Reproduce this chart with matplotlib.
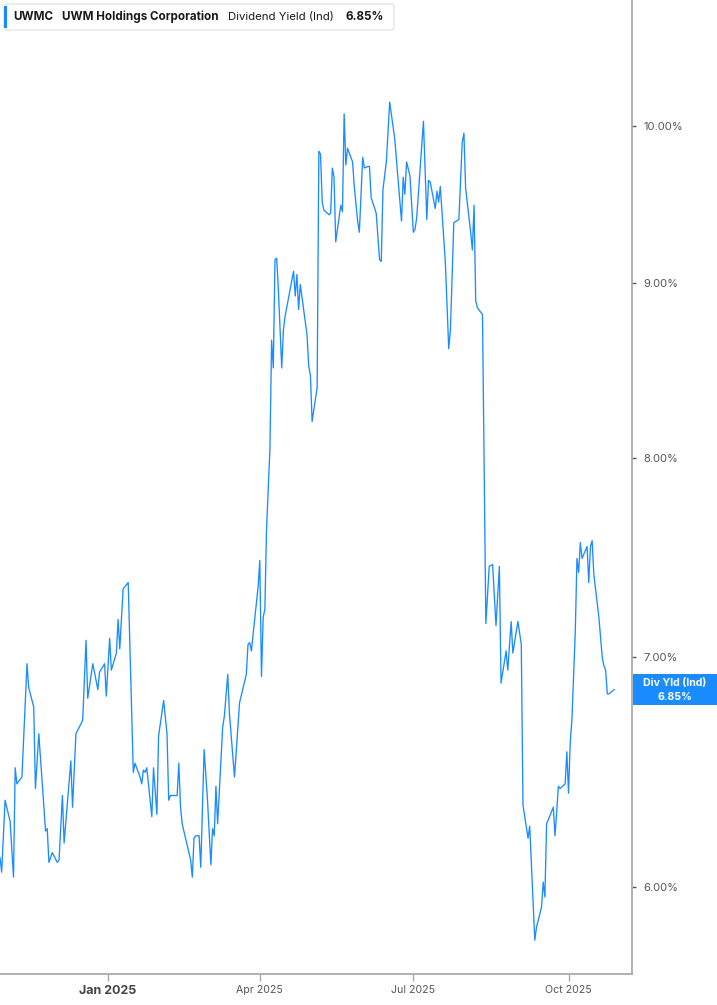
import matplotlib
matplotlib.use("Agg")
import matplotlib.pyplot as plt
import matplotlib.dates as mdates
from matplotlib.patches import FancyBboxPatch, Rectangle
from matplotlib.ticker import NullLocator
from datetime import datetime, timedelta

plt.rcParams['font.family'] = ['Inter', 'DejaVu Sans']

# dividend yield (%)
dates = [
    "2024-10-29", "2024-10-30", "2024-11-01", "2024-11-04", "2024-11-06", "2024-11-07", "2024-11-08",
    "2024-11-11", "2024-11-14", "2024-11-15", "2024-11-18", "2024-11-19", "2024-11-21", "2024-11-25",
    "2024-11-26", "2024-11-27", "2024-11-29", "2024-12-02", "2024-12-03", "2024-12-05", "2024-12-06",
    "2024-12-10", "2024-12-11", "2024-12-13", "2024-12-17", "2024-12-19", "2024-12-20", "2024-12-23",
    "2024-12-26", "2024-12-27", "2024-12-30", "2024-12-31", "2025-01-02", "2025-01-03", "2025-01-06",
    "2025-01-07", "2025-01-08", "2025-01-10", "2025-01-13", "2025-01-16", "2025-01-17", "2025-01-20",
    "2025-01-21", "2025-01-22", "2025-01-23", "2025-01-24", "2025-01-27", "2025-01-28", "2025-01-30",
    "2025-01-31", "2025-02-03", "2025-02-05", "2025-02-06", "2025-02-07", "2025-02-11", "2025-02-12",
    "2025-02-13", "2025-02-14", "2025-02-18", "2025-02-19", "2025-02-20", "2025-02-21", "2025-02-22",
    "2025-02-24", "2025-02-25", "2025-02-27", "2025-03-01", "2025-03-03", "2025-03-04", "2025-03-05",
    "2025-03-06", "2025-03-07", "2025-03-10", "2025-03-11", "2025-03-13", "2025-03-14", "2025-03-17",
    "2025-03-20", "2025-03-24", "2025-03-25", "2025-03-26", "2025-03-27", "2025-03-31", "2025-04-01",
    "2025-04-02", "2025-04-03", "2025-04-04", "2025-04-05", "2025-04-07", "2025-04-08", "2025-04-09",
    "2025-04-10", "2025-04-11", "2025-04-12", "2025-04-14", "2025-04-15", "2025-04-16", "2025-04-21",
    "2025-04-22", "2025-04-23", "2025-04-24", "2025-04-25", "2025-04-29", "2025-04-30", "2025-05-01",
    "2025-05-02", "2025-05-05", "2025-05-06", "2025-05-07", "2025-05-08", "2025-05-09", "2025-05-12",
    "2025-05-13", "2025-05-14", "2025-05-15", "2025-05-16", "2025-05-18", "2025-05-19", "2025-05-20",
    "2025-05-21", "2025-05-22", "2025-05-23", "2025-05-26", "2025-05-27", "2025-05-29", "2025-05-30",
    "2025-06-01", "2025-06-02", "2025-06-04", "2025-06-05", "2025-06-06", "2025-06-09", "2025-06-11",
    "2025-06-12", "2025-06-13", "2025-06-15", "2025-06-17", "2025-06-20", "2025-06-24", "2025-06-25",
    "2025-06-26", "2025-06-27", "2025-06-29", "2025-07-01", "2025-07-02", "2025-07-03", "2025-07-07",
    "2025-07-09", "2025-07-10", "2025-07-11", "2025-07-14", "2025-07-15", "2025-07-16", "2025-07-17",
    "2025-07-20", "2025-07-22", "2025-07-23", "2025-07-25", "2025-07-28", "2025-07-30", "2025-07-31",
    "2025-08-01", "2025-08-04", "2025-08-05", "2025-08-06", "2025-08-07", "2025-08-08", "2025-08-11",
    "2025-08-13", "2025-08-15", "2025-08-17", "2025-08-19", "2025-08-21", "2025-08-22", "2025-08-25",
    "2025-08-26", "2025-08-28", "2025-08-29", "2025-09-01", "2025-09-03", "2025-09-04", "2025-09-07",
    "2025-09-08", "2025-09-11", "2025-09-12", "2025-09-15", "2025-09-16", "2025-09-17", "2025-09-18",
    "2025-09-22", "2025-09-23", "2025-09-25", "2025-09-26", "2025-09-29", "2025-09-30", "2025-10-01",
    "2025-10-02", "2025-10-03", "2025-10-05", "2025-10-06", "2025-10-07", "2025-10-08", "2025-10-09",
    "2025-10-12", "2025-10-13", "2025-10-14", "2025-10-15", "2025-10-16", "2025-10-19", "2025-10-21",
    "2025-10-22", "2025-10-23", "2025-10-24", "2025-10-25", "2025-10-28",
]
div_yield = [
    6.12, 6.06, 6.36, 6.27, 6.04, 6.50, 6.43,
    6.46, 6.97, 6.86, 6.77, 6.41, 6.65, 6.23,
    6.24, 6.10, 6.14, 6.10, 6.11, 6.38, 6.18,
    6.53, 6.33, 6.65, 6.71, 7.08, 6.81, 6.97,
    6.85, 6.93, 6.97, 6.82, 7.09, 6.94, 7.02,
    7.18, 7.04, 7.33, 7.36, 6.48, 6.52, 6.46,
    6.43, 6.49, 6.48, 6.50, 6.29, 6.50, 6.30,
    6.64, 6.80, 6.65, 6.36, 6.38, 6.38, 6.52,
    6.33, 6.26, 6.14, 6.11, 6.04, 6.20, 6.21,
    6.21, 6.08, 6.58, 6.36, 6.09, 6.24, 6.21,
    6.42, 6.26, 6.68, 6.73, 6.92, 6.74, 6.46,
    6.79, 6.92, 7.06, 7.07, 7.03, 7.34, 7.47,
    6.91, 7.19, 7.23, 7.63, 8.05, 8.66, 8.50,
    9.14, 9.15, 8.96, 8.50, 8.72, 8.80, 9.07,
    8.92, 9.05, 8.84, 8.99, 8.69, 8.51, 8.46,
    8.20, 8.39, 9.83, 9.81, 9.50, 9.45, 9.42,
    9.43, 9.72, 9.66, 9.25, 9.40, 9.48, 9.44,
    10.08, 9.74, 9.85, 9.76, 9.60, 9.38, 9.31,
    9.79, 9.72, 9.73, 9.73, 9.53, 9.43, 9.14,
    9.13, 9.58, 9.76, 10.16, 9.91, 9.38, 9.66,
    9.55, 9.76, 9.67, 9.31, 9.33, 9.40, 10.03,
    9.39, 9.64, 9.63, 9.46, 9.57, 9.50, 9.60,
    9.12, 8.61, 8.72, 9.37, 9.39, 9.89, 9.95,
    9.59, 9.31, 9.20, 9.48, 8.89, 8.85, 8.81,
    7.16, 7.44, 7.45, 7.15, 7.44, 6.88, 7.03,
    6.94, 7.17, 7.02, 7.17, 7.06, 6.34, 6.20,
    6.25, 5.79, 5.84, 5.92, 6.02, 5.96, 6.26,
    6.33, 6.21, 6.42, 6.41, 6.43, 6.57, 6.39,
    6.61, 6.71, 7.12, 7.48, 7.41, 7.56, 7.48,
    7.54, 7.36, 7.54, 7.57, 7.40, 7.19, 7.00,
    6.96, 6.94, 6.83, 6.83, 6.85,
]
ytick_vals = [6, 7, 8, 9, 10]
xtick_dates = ["2025-01-01", "2025-04-01", "2025-07-01", "2025-10-01"]
xtick_labels = ["Jan 2025", "Apr 2025", "Jul 2025", "Oct 2025"]

ticker = "UWMC"
company = "UWM Holdings Corporation"
metric = "Dividend Yield (Ind)"
last_label = "Div Yld (Ind)"

BLUE = "#1a8cff"
W, H = 717, 1005

x = [datetime.strptime(d, "%Y-%m-%d") for d in dates]

fig = plt.figure(figsize=(W / 100, H / 100), dpi=100)
ax = fig.add_axes([0, 1 - 974 / H, 632 / W, 974 / H])
ax.plot(x, div_yield, color=BLUE, lw=0.95)

ax.set_yscale("log")
ax.set_ylim(5.66, 10.88)
ax.yaxis.set_minor_locator(NullLocator())
ax.set_yticks(ytick_vals)
ax.set_yticklabels([f"{v:.2f}%" for v in ytick_vals])
ax.yaxis.tick_right()
ax.tick_params(axis="y", which="major", direction="out", length=3, width=1,
               color="#555555", labelsize=8, labelcolor="#555555", pad=5)

start = datetime(2024, 10, 29)
ax.set_xlim(start, start + timedelta(days=632 / 1.687))
ax.set_xticks([datetime.strptime(d, "%Y-%m-%d") for d in xtick_dates])
ax.set_xticklabels(xtick_labels)
ax.tick_params(axis="x", direction="out", length=5, width=1, color="#aaaaaa",
               labelsize=7.6, labelcolor="#555555", pad=3)
for lab in ax.get_xticklabels():
    if lab.get_text() == "Jan 2025":
        lab.set_fontweight("bold")
        lab.set_fontsize(9)
        lab.set_color("#444444")

for s in ["top", "left"]:
    ax.spines[s].set_visible(False)
for s in ["bottom", "right"]:
    ax.spines[s].set_color("#b0b0b0")
    ax.spines[s].set_linewidth(1.4)

# header box
fig.patches.append(FancyBboxPatch((4 / W, 1 - 30 / H), 390 / W, 26 / H,
                                  boxstyle="round,pad=0,rounding_size=0.004",
                                  transform=fig.transFigure, facecolor="white",
                                  edgecolor="#e4e4e4", lw=1))
fig.patches.append(Rectangle((4 / W, 1 - 28 / H), 3 / W, 22 / H, transform=fig.transFigure,
                             facecolor=BLUE, edgecolor="none"))
ty = 1 - 17 / H
fig.text(13 / W, ty, ticker, fontsize=8.4, fontweight="bold", color="#1a1a1a", va="center")
fig.text(62 / W, ty, company, fontsize=8.4, fontweight="bold", color="#1a1a1a", va="center")
fig.text(228 / W, ty, metric, fontsize=8.2, color="#1a1a1a", va="center")
fig.text(345 / W, ty, f"{div_yield[-1]:.2f}%", fontsize=8.4, fontweight="bold",
         color="#1a1a1a", va="center")

# last value tag on the right
fig.canvas.draw()
_, ypix = ax.transData.transform((mdates.date2num(x[-1]), div_yield[-1]))
yc = ypix / H
fig.patches.append(Rectangle((633 / W, yc - 15.5 / H), 84 / W, 31 / H, transform=fig.transFigure,
                             facecolor=BLUE, edgecolor="none"))
fig.text(675 / W, yc + 6.5 / H, last_label, fontsize=7.6, fontweight="bold", color="white",
         ha="center", va="center")
fig.text(675 / W, yc - 7 / H, f"{div_yield[-1]:.2f}%", fontsize=7.6, fontweight="bold",
         color="white", ha="center", va="center")

fig.savefig("out.png", dpi=100)
